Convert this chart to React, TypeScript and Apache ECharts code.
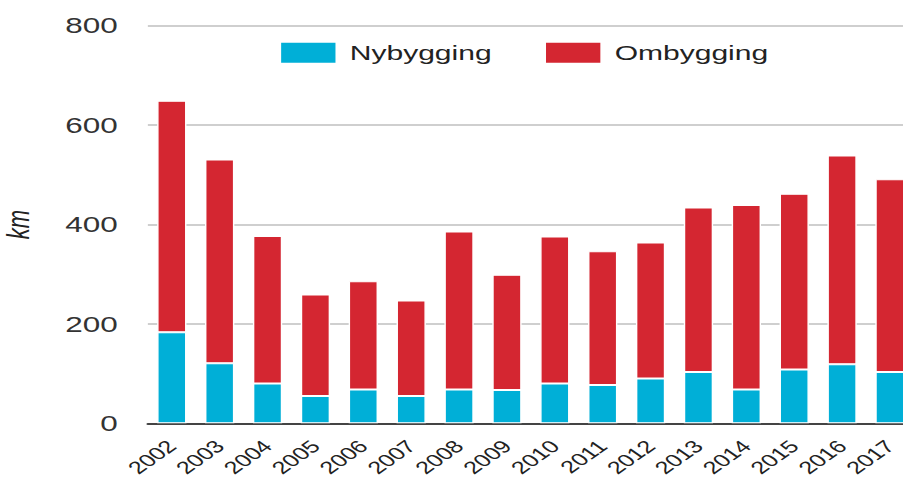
import React, { useEffect, useRef } from "react";
import * as echarts from "echarts";

const years = ["2002", "2003", "2004", "2005", "2006", "2007", "2008", "2009", "2010", "2011", "2012", "2013", "2014", "2015", "2016", "2017"];
const nybygging = [183, 121, 80, 55, 68, 55, 68, 67, 80, 77, 90, 103, 68, 108, 119, 103];
const ombygging = [466, 410, 297, 204, 218, 192, 318, 232, 296, 269, 274, 331, 371, 354, 420, 388];
const yTicks = [0, 200, 400, 600, 800];

const SX = 1.43;
const FONT = "'Liberation Sans', Arial, sans-serif";

export default function App() {
  const ref = useRef<HTMLDivElement>(null);
  useEffect(() => {
    if (!ref.current) return;
    const chart = echarts.init(ref.current, undefined, { renderer: "svg" });
    chart.setOption({
      animation: false,
      textStyle: { fontFamily: FONT },
      legend: {
        left: 194.6,
        top: 40.7,
        padding: 0,
        itemWidth: 40,
        itemHeight: 22,
        itemGap: 36,
        icon: "rect",
        textStyle: { fontSize: 21, color: "#222", fontFamily: FONT, padding: [0, 0, 0, 4] },
        data: ["Nybygging", "Ombygging"],
      },
      grid: { left: 103.4, right: 0.9, top: 25.7, bottom: 58.7, containLabel: false, outerBoundsMode: "none" },
      xAxis: {
        type: "category",
        data: years,
        axisTick: { show: false },
        axisLine: { lineStyle: { color: "#444", width: 2 } },
        axisLabel: { rotate: 45, fontSize: 17.5, color: "#222", margin: 20, fontFamily: FONT, interval: 0 },
      },
      yAxis: {
        type: "value",
        min: yTicks[0],
        max: yTicks[yTicks.length - 1],
        interval: 200,
        name: "km",
        nameLocation: "middle",
        nameRotate: 90,
        nameGap: 80,
        nameTextStyle: { fontSize: 22, fontStyle: "italic", color: "#222", fontFamily: FONT },
        axisLine: { show: false },
        axisTick: { show: false },
        axisLabel: { fontSize: 22, color: "#333", margin: 21, fontFamily: FONT },
        splitLine: { lineStyle: { color: "#cfcfcf", width: 2 } },
      },
      series: [
        {
          name: "Nybygging",
          type: "bar",
          stack: "total",
          data: nybygging,
          barWidth: 20.5,
          itemStyle: { color: "#00afd7", borderColor: "#ffffff", borderWidth: 1 },
        },
        {
          name: "Ombygging",
          type: "bar",
          stack: "total",
          data: ombygging,
          barWidth: 20.5,
          itemStyle: { color: "#d42631", borderColor: "#ffffff", borderWidth: 1 },
        },
      ],
    });
    return () => chart.dispose();
  }, []);
  return (
    <div style={{ position: "absolute", left: 0, top: 0, width: 903, height: 482, overflow: "hidden", background: "#fff" }}>
      <div
        ref={ref}
        style={{ width: 640, height: 482, transform: `scaleX(${SX})`, transformOrigin: "0 0" }}
      />
    </div>
  );
}
